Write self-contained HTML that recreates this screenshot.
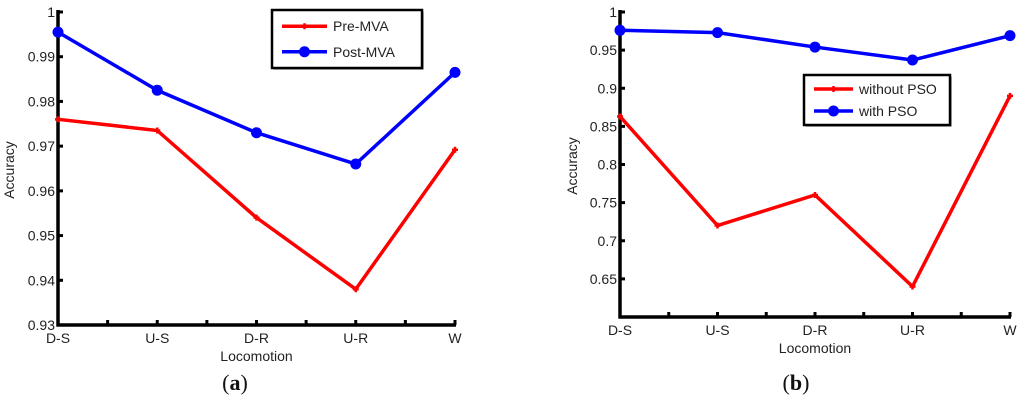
<!DOCTYPE html>
<html><head><meta charset="utf-8"><style>
html,body{margin:0;padding:0;background:#fff;}
svg{display:block;font-family:"Liberation Sans",sans-serif;}
</style></head><body>
<svg id="chart" width="1024" height="402" viewBox="0 0 1024 402"></svg>
<script>
const categories = ["D-S","U-S","D-R","U-R","W"];
const preMVA = [0.976, 0.9735, 0.954, 0.938, 0.9692];
const postMVA = [0.9955, 0.9825, 0.973, 0.966, 0.9865];
const withoutPSO = [0.863, 0.72, 0.76, 0.64, 0.89];
const withPSO = [0.976, 0.973, 0.954, 0.937, 0.969];
const ticksA = [0.93,0.94,0.95,0.96,0.97,0.98,0.99,1];
const tickLabelsA = ["0.93","0.94","0.95","0.96","0.97","0.98","0.99","1"];
const ticksB = [0.65,0.7,0.75,0.8,0.85,0.9,0.95,1];
const tickLabelsB = ["0.65","0.7","0.75","0.8","0.85","0.9","0.95","1"];

const NS="http://www.w3.org/2000/svg";
const svg=document.getElementById('chart');
function mk(tag,attrs,parent,name){const e=document.createElementNS(NS,tag);for(const k in attrs)e.setAttribute(k,attrs[k]);


(parent||svg).appendChild(e);return e;}

function panel(p){
  const g=mk('g',{},svg,p.id);
  const xs=i=>p.x0+(p.x1-p.x0)*i/(categories.length-1);
  const ys=v=>p.yb-(v-p.ymin)/(p.ymax-p.ymin)*(p.yb-p.yt);
  p.ticks.forEach((t,i)=>{const y=ys(t);
    mk('line',{x1:p.x0,x2:p.x0+5,y1:y,y2:y,stroke:'#000','stroke-width':3},g,'y-tick');
    const tx=mk('text',{x:p.x0-3,y:y+5,'text-anchor':'end','font-size':14,fill:'#222'},g,'y-tick-label');tx.textContent=p.labels[i];});
  for(let i=0;i<categories.length*2-1;i++){const x=p.x0+(p.x1-p.x0)*i/(2*(categories.length-1));
    mk('line',{x1:x,x2:x,y1:p.yb,y2:p.yb-5,stroke:'#000','stroke-width':3},g,'x-tick');}
  categories.forEach((c,i)=>{const tx=mk('text',{x:xs(i),y:p.yb+18,'text-anchor':'middle','font-size':14,fill:'#222'},g,'x-tick-label');tx.textContent=c;});
  mk('line',{x1:p.x0,x2:p.x0,y1:p.yt-2,y2:p.yb+1.5,stroke:'#000','stroke-width':3.5},g,'y-axis');
  mk('line',{x1:p.x0-1.5,x2:p.x1+1,y1:p.yb,y2:p.yb,stroke:'#000','stroke-width':3.5},g,'x-axis');
  let t=mk('text',{x:(p.x0+p.x1)/2,y:p.yb+36,'text-anchor':'middle','font-size':14,fill:'#222'},g,'x-axis-title');t.textContent='Locomotion';
  t=mk('text',{x:0,y:0,'text-anchor':'middle','font-size':14,fill:'#222',transform:`translate(${p.ylx},${p.yly}) rotate(-90)`},g,'y-axis-title');t.textContent='Accuracy';
  p.series.forEach(s=>{
    mk('polyline',{points:s.data.map((v,i)=>xs(i)+','+ys(v)).join(' '),fill:'none',stroke:s.color,'stroke-width':3.5},g,s.name+'-line');
    s.data.forEach((v,i)=>{
      if(s.circle) mk('circle',{cx:xs(i),cy:ys(v),r:5.5,fill:s.color},g,s.name+'-point');
      else mk('path',{d:`M${xs(i)-3},${ys(v)}h6M${xs(i)},${ys(v)-3}v6`,stroke:s.color,'stroke-width':2.5},g,s.name+'-point');
    });
  });
  const L=p.legend;
  mk('rect',{x:L.x+1.5,y:L.y+1.5,width:L.w,height:L.h,fill:'#333'},g,'legend-shadow');
  mk('rect',{x:L.x,y:L.y,width:L.w,height:L.h,fill:'#fff',stroke:'#000','stroke-width':2.5},g,'legend');
  p.series.forEach((s,k)=>{const y=L.y+L.h*(k===0?0.28:0.72);
    mk('line',{x1:L.x+10,x2:L.x+L.lw,y1:y,y2:y,stroke:s.color,'stroke-width':3.5},g,'legend-line');
    const mx=L.x+(10+L.lw)/2;
    if(s.circle) mk('circle',{cx:mx,cy:y,r:5.5,fill:s.color},g,'legend-marker');
    else mk('path',{d:`M${mx-3},${y}h6M${mx},${y-3}v6`,stroke:s.color,'stroke-width':2.5},g,'legend-marker');
    const tx=mk('text',{x:L.x+L.lw+6,y:y+5,'font-size':14,fill:'#222'},g,'legend-entry');tx.textContent=s.label;});
  t=mk('text',{x:p.capx,y:390,'text-anchor':'middle','font-size':22,'font-family':'Liberation Serif, serif',fill:'#111'},g,'caption');
  t.innerHTML='(<tspan font-weight="bold">'+p.cap+'</tspan>)';
}
panel({id:'panel-a',x0:58,x1:455,yt:12,yb:325,ymin:0.93,ymax:1,ticks:ticksA,labels:tickLabelsA,ylx:14,yly:170,capx:235,cap:'a',
  series:[{name:'pre-mva',label:'Pre-MVA',data:preMVA,color:'#ff0000'},{name:'post-mva',label:'Post-MVA',data:postMVA,color:'#0000ff',circle:true}],
  legend:{x:272,y:10,w:150,h:58,lw:55}});
panel({id:'panel-b',x0:620,x1:1010,yt:12,yb:317,ymin:0.6,ymax:1,ticks:ticksB,labels:tickLabelsB,ylx:577,yly:166,capx:796,cap:'b',
  series:[{name:'without-pso',label:'without PSO',data:withoutPSO,color:'#ff0000'},{name:'with-pso',label:'with PSO',data:withPSO,color:'#0000ff',circle:true}],
  legend:{x:804,y:75,w:146,h:50,lw:49}});
</script>
</body></html>
